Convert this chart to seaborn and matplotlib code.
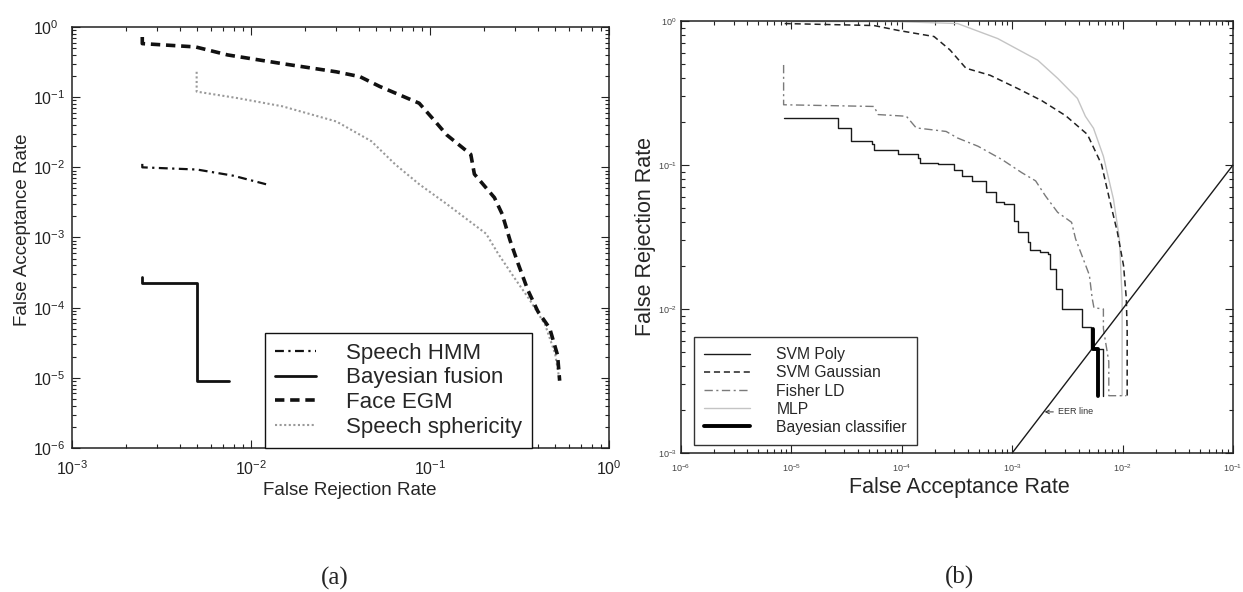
import matplotlib
matplotlib.use("Agg")
import matplotlib.pyplot as plt
from matplotlib.lines import Line2D
import seaborn as sns

# ---------------- panel (a): multimodal fusion vs. single experts ----------------
hmm_frr = [2.47e-3, 2.47e-3, 5.0e-3, 7.96e-3, 1.26e-2]
hmm_far = [1.12e-2, 1.0e-2, 9.3e-3, 7.6e-3, 5.6e-3]

fusion_frr = [2.47e-3, 2.47e-3, 4.97e-3, 4.97e-3, 7.5e-3]
fusion_far = [2.75e-4, 2.26e-4, 2.26e-4, 8.9e-6, 8.9e-6]

egm_frr = [2.47e-3, 2.47e-3, 4.9e-3, 7.4e-3, 1.50e-2, 2.99e-2, 4.06e-2, 5.24e-2,
           8.7e-2, 0.107, 0.124, 0.169, 0.177, 0.229, 0.253, 0.280, 0.31, 0.352,
           0.40, 0.466, 0.516, 0.53]
egm_far = [0.72, 0.58, 0.52, 0.40, 0.30, 0.23, 0.196, 0.142,
           0.082, 0.045, 0.029, 0.0153, 0.0080, 3.7e-3, 2.16e-3, 9.1e-4, 4.3e-4, 1.78e-4,
           8.9e-5, 5.1e-5, 2.1e-5, 9.1e-6]

sph_frr = [4.97e-3, 4.97e-3, 8.4e-3, 1.5e-2, 3.0e-2, 4.7e-2, 6.4e-2, 8.7e-2,
           0.124, 0.206, 0.24, 0.295, 0.36, 0.44, 0.50, 0.53]
sph_far = [0.23, 0.12, 0.097, 0.074, 0.045, 0.0236, 0.011, 5.75e-3,
           3.0e-3, 1.13e-3, 5.9e-4, 2.7e-4, 1.3e-4, 5.7e-5, 2.2e-5, 9.1e-6]

labels_a = ["Speech HMM", "Bayesian fusion", "Face EGM", "Speech sphericity"]

# ---------------- panel (b): classifier comparison ----------------
poly_far = [8.5e-6, 2.67e-5, 3.5e-5, 5.4e-5, 5.6e-5, 9.3e-5, 1.41e-4, 1.47e-4,
            2.13e-4, 2.97e-4, 3.5e-4, 4.3e-4, 5.8e-4, 7.1e-4, 8.4e-4, 1.03e-3,
            1.12e-3, 1.38e-3, 1.44e-3, 1.77e-3, 2.1e-3, 2.18e-3, 2.48e-3, 2.8e-3,
            4.25e-3, 5.2e-3, 6.6e-3, 6.6e-3]
poly_frr = [0.212, 0.181, 0.146, 0.141, 0.128, 0.120, 0.112, 0.104,
            0.101, 0.093, 0.084, 0.0776, 0.0645, 0.055, 0.0535, 0.041,
            0.034, 0.029, 0.0255, 0.0248, 0.0242, 0.019, 0.0138, 0.010,
            7.46e-3, 5.3e-3, 5.3e-3, 2.5e-3]

gauss_far = [8.7e-6, 5.6e-5, 9.3e-5, 1.96e-4, 2.73e-4, 3.81e-4, 6.3e-4, 1.12e-3,
             1.85e-3, 3.05e-3, 4.8e-3, 6.44e-3, 7.6e-3, 8.98e-3, 1.02e-2, 1.08e-2,
             1.10e-2, 1.10e-2]
gauss_frr = [0.96, 0.93, 0.86, 0.78, 0.63, 0.47, 0.42, 0.34,
             0.28, 0.22, 0.163, 0.101, 0.058, 0.034, 0.020, 0.0119,
             0.007, 2.5e-3]

fisher_far = [8.5e-6, 8.5e-6, 5.6e-5, 6.1e-5, 1.1e-4, 1.35e-4, 2.52e-4, 3.2e-4,
              4.9e-4, 8.1e-4, 1.22e-3, 1.63e-3, 2.0e-3, 2.58e-3, 3.45e-3, 3.75e-3,
              5.0e-3, 5.3e-3, 5.5e-3, 6.7e-3, 6.7e-3, 7.5e-3, 7.5e-3, 1.08e-2]
fisher_frr = [0.495, 0.262, 0.255, 0.224, 0.218, 0.181, 0.171, 0.154,
              0.135, 0.109, 0.0885, 0.0776, 0.061, 0.0469, 0.040, 0.0307,
              0.0172, 0.0119, 0.0102, 0.010, 7.3e-3, 4.3e-3, 2.5e-3, 2.5e-3]

mlp_far = [9e-6, 9.3e-5, 3.2e-4, 7.4e-4, 1.70e-3, 2.58e-3, 3.9e-3, 4.6e-3,
           5.45e-3, 6.7e-3, 8.26e-3, 9.35e-3, 9.9e-3, 9.9e-3]
mlp_frr = [0.99, 0.99, 0.96, 0.755, 0.535, 0.40, 0.29, 0.218,
           0.18, 0.115, 0.058, 0.031, 0.0119, 2.5e-3]

bayes_far = [5.45e-3, 5.45e-3, 5.93e-3, 5.93e-3]
bayes_frr = [7.3e-3, 5.3e-3, 5.3e-3, 2.48e-3]

eer_far = [1e-3, 1e-1]
eer_frr = [1e-3, 1e-1]

labels_b = ["SVM Poly", "SVM Gaussian", "Fisher LD", "MLP", "Bayesian classifier"]

# ---------------- styling ----------------
sns.set_theme(style="ticks")
plt.rcParams["font.family"] = ["Liberation Sans", "DejaVu Sans"]
plt.rcParams["mathtext.fontset"] = "custom"
plt.rcParams["mathtext.rm"] = "Liberation Sans"
plt.rcParams["mathtext.it"] = "Liberation Sans:italic"
plt.rcParams["axes.edgecolor"] = "#222222"
plt.rcParams["axes.linewidth"] = 1.1
plt.rcParams["xtick.color"] = "#222222"
plt.rcParams["ytick.color"] = "#222222"

W, H = 1243, 592
fig = plt.figure(figsize=(W / 100, H / 100), dpi=100)
fig.patch.set_facecolor("white")

ax_a = fig.add_axes([72 / W, (H - 448) / H, 537 / W, 421 / H])
ax_b = fig.add_axes([681 / W, (H - 453) / H, 552 / W, 432 / H])

style_a = {
    "Speech HMM": dict(color="#111111", lw=1.6, linestyle=(0, (4, 2, 1, 2))),
    "Bayesian fusion": dict(color="#111111", lw=2.0, linestyle="-"),
    "Face EGM": dict(color="#111111", lw=2.6, linestyle=(0, (2.6, 1.6))),
    "Speech sphericity": dict(color="#9a9a9a", lw=1.5, linestyle=(0, (1, 1.2))),
}
style_b = {
    "SVM Poly": dict(color="#1a1a1a", lw=1.0, linestyle="-"),
    "SVM Gaussian": dict(color="#222222", lw=1.1, linestyle=(0, (4, 2.5))),
    "Fisher LD": dict(color="#7a7a7a", lw=1.0, linestyle=(0, (6, 2.5, 1.5, 2.5))),
    "MLP": dict(color="#c4c4c4", lw=1.0, linestyle="-"),
    "Bayesian classifier": dict(color="#000000", lw=2.8, linestyle="-"),
}


def draw(ax, x, y, style, **extra):
    sns.lineplot(x=x, y=y, ax=ax, estimator=None, sort=False, legend=False,
                 **style, **extra)


draw(ax_a, sph_frr, sph_far, style_a["Speech sphericity"])
draw(ax_a, egm_frr, egm_far, style_a["Face EGM"])
draw(ax_a, hmm_frr, hmm_far, style_a["Speech HMM"])
draw(ax_a, fusion_frr, fusion_far, style_a["Bayesian fusion"])

draw(ax_b, mlp_far, mlp_frr, style_b["MLP"])
draw(ax_b, fisher_far, fisher_frr, style_b["Fisher LD"])
draw(ax_b, gauss_far, gauss_frr, style_b["SVM Gaussian"])
draw(ax_b, poly_far, poly_frr, style_b["SVM Poly"], drawstyle="steps-post")
draw(ax_b, eer_far, eer_frr, dict(color="#1a1a1a", lw=1.0, linestyle="-"))
draw(ax_b, bayes_far, bayes_frr, style_b["Bayesian classifier"])

for ax in (ax_a, ax_b):
    ax.set_xscale("log")
    ax.set_yscale("log")
    ax.tick_params(which="both", direction="in", top=True, right=True, width=0.8)
    ax.tick_params(which="major", length=6)
    ax.tick_params(which="minor", length=3)
    ax.set_xlabel("")
    ax.set_ylabel("")
    for s in ax.spines.values():
        s.set_visible(True)

# panel (a) axes
ax_a.set_xlim(1e-3, 1e0)
ax_a.set_ylim(1e-6, 1e0)
ax_a.set_xticks([1e-3, 1e-2, 1e-1, 1e0])
ax_a.set_yticks([1e-6, 1e-5, 1e-4, 1e-3, 1e-2, 1e-1, 1e0])
ax_a.tick_params(axis="x", which="major", labelsize=11.5, pad=8)
ax_a.tick_params(axis="y", which="major", labelsize=11.5, pad=28)
for t in ax_a.yaxis.get_major_ticks():
    t.label1.set_horizontalalignment("left")
ax_a.set_xlabel("False Rejection Rate", fontsize=13.5)
ax_a.xaxis.set_label_coords(0.518, -0.100)
ax_a.xaxis.label.set_va("center")
ax_a.set_ylabel("False Acceptance Rate", fontsize=13.5)
ax_a.yaxis.set_label_coords(-0.093, 0.518)
ax_a.yaxis.label.set_va("center")

handles_a = [Line2D([], [], **style_a[k]) for k in labels_a]
leg_a = ax_a.legend(handles_a, labels_a, loc="lower left",
                    bbox_to_anchor=(0.359, 0.0), borderaxespad=0,
                    fontsize=16, frameon=True, fancybox=False,
                    handlelength=1.85, handletextpad=1.35, labelspacing=0.17,
                    borderpad=0.45)
leg_a.get_frame().set_edgecolor("#111111")
leg_a.get_frame().set_linewidth(1.0)
leg_a.get_frame().set_alpha(1)

# panel (b) axes
ax_b.set_xlim(1e-6, 1e-1)
ax_b.set_ylim(1e-3, 1e0)
ax_b.set_xticks([1e-6, 1e-5, 1e-4, 1e-3, 1e-2, 1e-1])
ax_b.set_yticks([1e-3, 1e-2, 1e-1, 1e0])
ax_b.tick_params(axis="both", which="major", labelsize=6.5, labelcolor="#444444")
ax_b.tick_params(axis="x", which="major", pad=7)
ax_b.tick_params(axis="y", which="major", pad=3)
ax_b.set_xlabel("False Acceptance Rate", fontsize=15.5)
ax_b.xaxis.set_label_coords(0.504, -0.081)
ax_b.xaxis.label.set_va("center")
ax_b.set_ylabel("False Rejection Rate", fontsize=15.5)
ax_b.yaxis.set_label_coords(-0.064, 0.5)
ax_b.yaxis.label.set_va("center")

handles_b = [Line2D([], [], **style_b[k]) for k in labels_b]
leg_b = ax_b.legend(handles_b, labels_b, loc="lower left",
                    bbox_to_anchor=(0.0236, 0.0185), borderaxespad=0,
                    fontsize=11.3, frameon=True, fancybox=False,
                    handlelength=2.9, handletextpad=1.7, labelspacing=0.2,
                    borderpad=0.65)
leg_b.get_frame().set_edgecolor("#333333")
leg_b.get_frame().set_linewidth(1.0)
leg_b.get_frame().set_alpha(1)

ax_b.annotate("EER line", xy=(1.93e-3 * 1.02, 1.93e-3), xytext=(1058, 592 - 412),
              textcoords="figure pixels", fontsize=6.5, color="#333333",
              va="center", ha="left",
              arrowprops=dict(arrowstyle="->", color="#333333", lw=0.7,
                              shrinkA=1, shrinkB=0))

# panel captions
fig.text(335 / W, 1 - 578 / H, "(a)", fontsize=18, ha="center", va="center",
         family=["Liberation Serif", "DejaVu Serif"])
fig.text(960 / W, 1 - 577 / H, "(b)", fontsize=18, ha="center", va="center",
         family=["Liberation Serif", "DejaVu Serif"])

fig.savefig("out.png", dpi=100, facecolor="white")
